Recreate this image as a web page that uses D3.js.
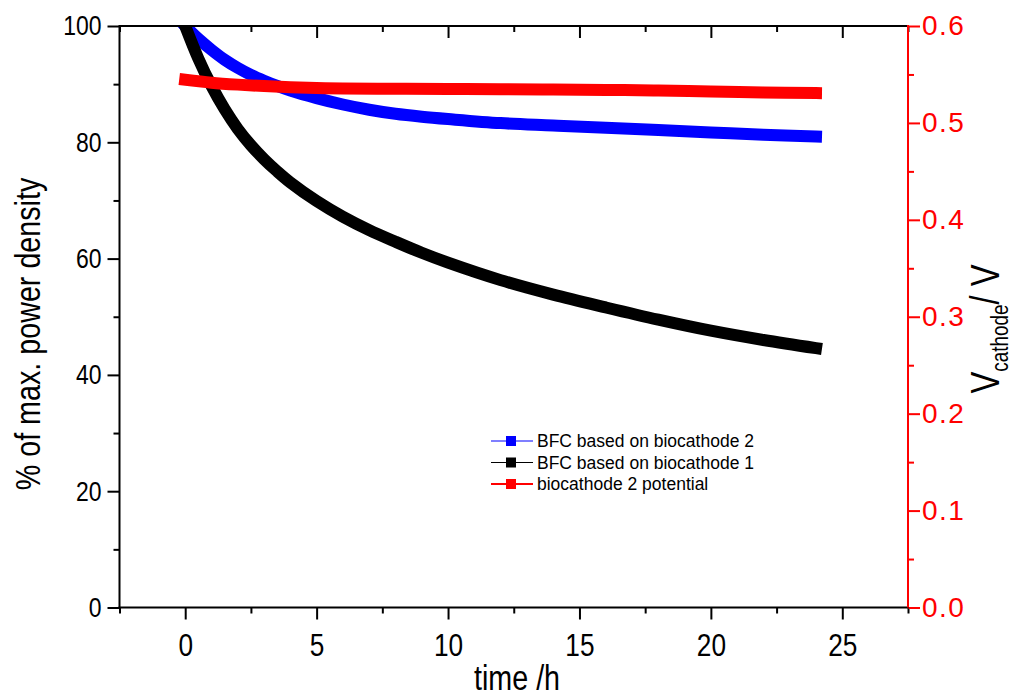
<!DOCTYPE html>
<html>
<head>
<meta charset="utf-8">
<script src="https://cdn.jsdelivr.net/npm/d3@7"></script>
<style>
  html, body { margin: 0; padding: 0; background: #fff; }
  svg { display: block; font-family: Arial, "Liberation Sans", Helvetica, sans-serif; }
</style>
</head>
<body>
<svg id="chart" width="1012" height="700"></svg>
<script>
// ---- data ----
const timeH = [0, 0.5, 1, 1.5, 2, 2.5, 3, 3.5, 4, 5, 6, 7, 8, 9, 10, 12, 14, 16, 18, 20, 22, 24];
const bfcBiocathode2 = [100, 97.8, 95.9, 94.2, 92.8, 91.6, 90.6, 89.7, 88.9, 87.6, 86.5, 85.6, 84.9, 84.4, 84.0, 83.3, 82.9, 82.5, 82.1, 81.7, 81.3, 81.0];
const bfcBiocathode1 = [100, 94.4, 89.7, 85.7, 82.3, 79.5, 77.1, 75.0, 73.1, 69.9, 67.2, 64.9, 62.9, 61.0, 59.3, 56.3, 53.8, 51.6, 49.5, 47.6, 46.0, 44.6];
const potentialTime = [0, 1, 2, 3, 4, 5, 6, 8, 10, 12, 14, 16, 18, 20, 22, 24];
const biocathode2Potential = [0.5445, 0.5415, 0.5395, 0.538, 0.5368, 0.536, 0.5356, 0.5352, 0.535, 0.5348, 0.5345, 0.534, 0.5335, 0.5325, 0.5315, 0.5308];

const xMajorTicks = [0, 5, 10, 15, 20, 25];
const xMinorTicks = [-2.5, 2.5, 7.5, 12.5, 17.5, 22.5, 27.5];
const yLeftMajorTicks = [0, 20, 40, 60, 80, 100];
const yLeftMinorTicks = [10, 30, 50, 70, 90];
const yRightMajorTicks = [0, 0.1, 0.2, 0.3, 0.4, 0.5, 0.6];
const yRightMinorTicks = [0.05, 0.15, 0.25, 0.35, 0.45, 0.55];

const legendLabels = ["BFC based on biocathode 2", "BFC based on biocathode 1", "biocathode 2 potential"];
const seriesColors = ["#0000ff", "#000000", "#ff0000"];

// ---- layout ----
const L = 119.5, R = 908, T = 26, B = 607.5;
const NARROW = 0.82;
const svg = d3.select("#chart");

const x = d3.scaleLinear().domain([-2.5, 27.5]).range([L, R]);
const yL = d3.scaleLinear().domain([0, 100]).range([B, T]);
const yR = d3.scaleLinear().domain([0, 0.6]).range([B, T]);

svg.append("defs").append("clipPath").attr("id", "plotclip")
  .append("rect").attr("x", L).attr("y", T).attr("width", R - L).attr("height", B - T);

// ---- series ----
const plot = svg.append("g").attr("clip-path", "url(#plotclip)");
const lineL = d3.line().curve(d3.curveCatmullRom.alpha(0.5));
function drawSeries(xs, ys, yScale, color) {
  plot.append("path")
    .attr("d", lineL(xs.map((t, i) => [x(t), yScale(ys[i])])))
    .attr("fill", "none").attr("stroke", color)
    .attr("stroke-width", 12).attr("stroke-linecap", "square").attr("stroke-linejoin", "round");
}
drawSeries(timeH, bfcBiocathode2, yL, seriesColors[0]);
drawSeries(timeH, bfcBiocathode1, yL, seriesColors[1]);
drawSeries(potentialTime, biocathode2Potential, yR, seriesColors[2]);

// ---- axes ----
function styleAxis(g, color) {
  g.selectAll(".domain").remove();
  g.selectAll("line").attr("stroke", color).attr("stroke-width", 2);
  g.selectAll("text").attr("fill", color);
}
// bottom
const gB = svg.append("g").attr("transform", `translate(0,${B})`);
gB.append("g").call(d3.axisBottom(x).tickValues(xMajorTicks).tickSize(12).tickPadding(14).tickFormat(d3.format("d")))
  .call(g => {
    styleAxis(g, "#000");
    g.selectAll("text").attr("font-size", 32).attr("transform", `scale(${NARROW},1)`);
  });
gB.append("g").call(d3.axisBottom(x).tickValues(xMinorTicks).tickSize(6).tickFormat(""))
  .call(g => styleAxis(g, "#000"));
// top (inward)
const gT = svg.append("g").attr("transform", `translate(0,${T})`);
gT.append("g").call(d3.axisBottom(x).tickValues(xMajorTicks).tickSize(12).tickFormat(""))
  .call(g => styleAxis(g, "#000"));
gT.append("g").call(d3.axisBottom(x).tickValues(xMinorTicks).tickSize(6).tickFormat(""))
  .call(g => styleAxis(g, "#000"));
// left
const gLft = svg.append("g").attr("transform", `translate(${L},0)`);
gLft.append("g").call(d3.axisLeft(yL).tickValues(yLeftMajorTicks).tickSize(12).tickPadding(6).tickFormat(d3.format("d")))
  .call(g => {
    styleAxis(g, "#000");
    g.selectAll("text").attr("font-size", 28)
      .attr("x", -18 / NARROW).attr("transform", `scale(${NARROW},1)`);
  });
gLft.append("g").call(d3.axisLeft(yL).tickValues(yLeftMinorTicks).tickSize(6).tickFormat(""))
  .call(g => styleAxis(g, "#000"));
// right (red)
const gRt = svg.append("g").attr("transform", `translate(${R},0)`);
gRt.append("g").call(d3.axisRight(yR).tickValues(yRightMajorTicks).tickSize(12).tickPadding(2).tickFormat(d3.format(".1f")))
  .call(g => { styleAxis(g, "#ff0000"); g.selectAll("text").attr("font-size", 28).attr("letter-spacing", 1.5); });
gRt.append("g").call(d3.axisRight(yR).tickValues(yRightMinorTicks).tickSize(6).tickFormat(""))
  .call(g => styleAxis(g, "#ff0000"));

// axis lines
svg.append("line").attr("x1", L).attr("x2", R).attr("y1", T).attr("y2", T).attr("stroke", "#000").attr("stroke-width", 2);
svg.append("line").attr("x1", L - 1).attr("x2", R + 1).attr("y1", B).attr("y2", B).attr("stroke", "#000").attr("stroke-width", 2);
svg.append("line").attr("x1", L).attr("x2", L).attr("y1", T - 1).attr("y2", B + 1).attr("stroke", "#000").attr("stroke-width", 2);
svg.append("line").attr("x1", R).attr("x2", R).attr("y1", T - 1).attr("y2", B).attr("stroke", "#ff0000").attr("stroke-width", 2);

// ---- titles ----
svg.append("text").attr("transform", `translate(517,690) scale(${NARROW},1)`).attr("text-anchor", "middle")
  .attr("font-size", 35).text("time /h");
svg.append("text").attr("transform", `translate(40,334) rotate(-90) scale(${NARROW},1)`).attr("text-anchor", "middle")
  .attr("font-size", 35).text("% of max. power density");
const rt = svg.append("text").attr("transform", `translate(999,329) rotate(-90) scale(${NARROW},1)`).attr("text-anchor", "middle")
  .attr("font-size", 40);
rt.append("tspan").text("V");
rt.append("tspan").attr("font-size", 23).attr("dy", 9).text("cathode");
rt.append("tspan").attr("dy", -9).text("/ V");

// ---- legend ----
const lg = svg.append("g");
const legendY0 = 441, legendDy = 21.5;
legendLabels.forEach((lab, i) => {
  const yy = legendY0 + i * legendDy;
  lg.append("line").attr("x1", 491).attr("x2", 533).attr("y1", yy).attr("y2", yy)
    .attr("stroke", seriesColors[i]).attr("stroke-width", i === 2 ? 2 : 1.2);
  lg.append("rect").attr("x", 506).attr("y", yy - 5).attr("width", 10).attr("height", 10).attr("fill", seriesColors[i]);
  lg.append("text").attr("x", 537).attr("y", yy + 6).attr("font-size", 17.5).attr("fill", "#000").text(lab);
});
</script>
</body>
</html>
